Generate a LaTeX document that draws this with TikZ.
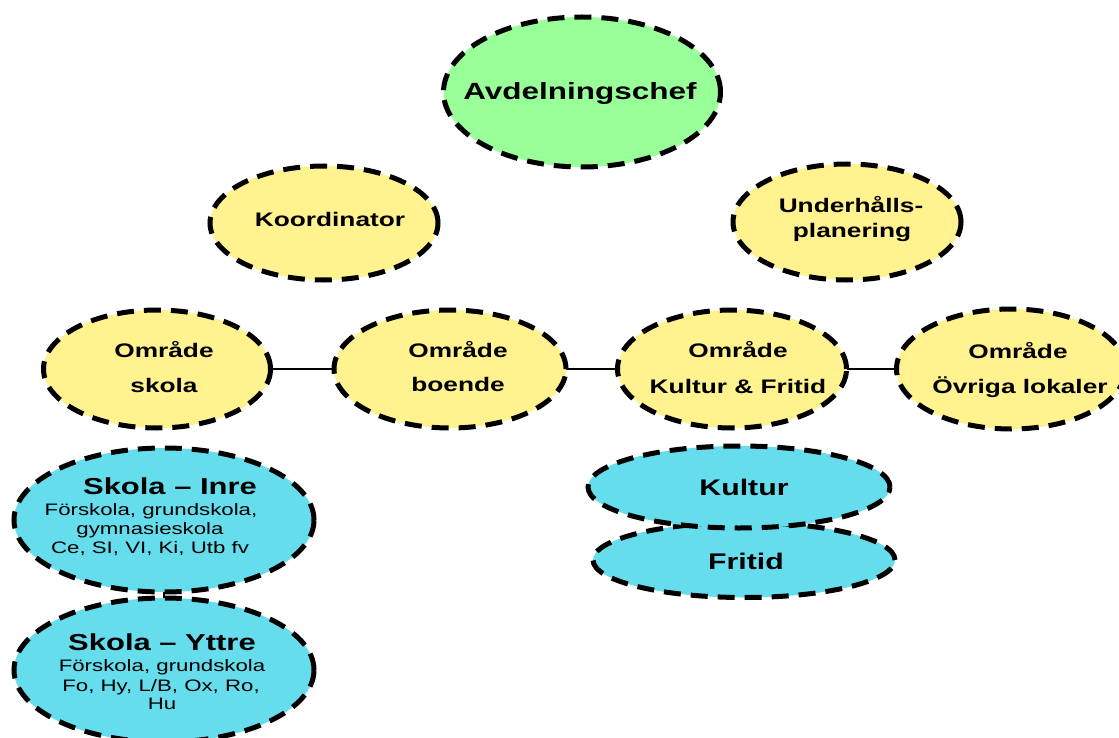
\documentclass[tikz,border=0pt]{standalone}
\usepackage{fontspec}
\usetikzlibrary{shapes.geometric}
\newfontfamily\af{Liberation Sans}[FakeStretch=1.34]
\definecolor{chefgreen}{RGB}{153,255,153}
\definecolor{areayellow}{RGB}{255,242,143}
\definecolor{unitcyan}{RGB}{102,221,236}
\tikzset{
  bubble/.style={ellipse, draw=black, line width=5pt, dash pattern=on 17pt off 10pt, inner sep=0pt, outer sep=0pt},
  chefbub/.style={bubble, fill=chefgreen},
  areabub/.style={bubble, fill=areayellow},
  unitbub/.style={bubble, fill=unitcyan},
  txt/.style={anchor=base, inner sep=0pt, text=black},
  cheftxt/.style={txt, font=\af\bfseries\fontsize{23.5}{27}\selectfont},
  areatxt/.style={txt, font=\af\bfseries\fontsize{19.6}{23}\selectfont},
  titletxt/.style={txt, font=\af\bfseries\fontsize{23.1}{26}\selectfont},
  subtxt/.style={txt, font=\af\fontsize{16.6}{19}\selectfont},
  unittxt/.style={txt, font=\af\bfseries\fontsize{22.6}{26}\selectfont},
  link/.style={draw=black, line width=1.3pt}
}
\begin{document}
\begin{tikzpicture}[x=1pt,y=-1pt]
\useasboundingbox (0,0) rectangle (1119,738);
\clip (0,0) rectangle (1119,738);
\fill[white] (0,0) rectangle (1119,738);

% top
\node[chefbub, minimum width=277pt, minimum height=150pt] (chef) at (582,92) {};
\node[cheftxt] (chef-t) at (580,100) {Avdelningschef};

\node[areabub, minimum width=228pt, minimum height=114pt] (koord) at (324,223) {};
\node[areatxt] (koord-t) at (330,227) {Koordinator};

\node[areabub, minimum width=228pt, minimum height=116pt] (underh) at (847,222) {};
\node[areatxt] (underh-t1) at (851,213) {Underhålls-};
\node[areatxt] (underh-t2) at (852,237) {planering};

% areas row
\node[areabub, minimum width=227pt, minimum height=118pt] (skola) at (157,369) {};
\node[areatxt] (skola-t1) at (164,357) {Område};
\node[areatxt] (skola-t2) at (164,392) {skola};

\node[areabub, minimum width=232pt, minimum height=118pt] (boende) at (450,369) {};
\node[areatxt] (boende-t1) at (458,357) {Område};
\node[areatxt] (boende-t2) at (458,391) {boende};

\node[areabub, minimum width=229pt, minimum height=118pt] (kf) at (732,369) {};
\node[areatxt] (kf-t1) at (738,357) {Område};
\node[areatxt] (kf-t2) at (738,393) {Kultur \& Fritid};

\node[areabub, minimum width=229pt, minimum height=120pt] (ovr) at (1011,369) {};
\node[areatxt] (ovr-t1) at (1018,358) {Område};
\node[areatxt] (ovr-t2) at (1020,393) {Övriga lokaler};

\draw[link] (skola) -- (boende);
\draw[link] (boende) -- (kf);
\draw[link] (kf) -- (ovr);

% school units
\node[unitbub, minimum width=300pt, minimum height=144pt] (inre) at (164,520) {};
\node[unitbub, minimum width=300pt, minimum height=144pt] (yttre) at (164,670) {};
\draw[link] (inre) -- (yttre);
\node[titletxt] (inre-t) at (170,494) {Skola – Inre};
\node[subtxt] (inre-s1) at (151,515) {Förskola, grundskola,};
\node[subtxt] (inre-s2) at (150,534) {gymnasieskola};
\node[subtxt] (inre-s3) at (150,553) {Ce, SI, VI, Ki, Utb fv};
\node[titletxt] (yttre-t) at (162,650) {Skola – Yttre};
\node[subtxt] (yttre-s1) at (162,671) {Förskola, grundskola};
\node[subtxt] (yttre-s2) at (161,691) {Fo, Hy, L/B, Ox, Ro,};
\node[subtxt] (yttre-s3) at (162,709) {Hu};

% culture units
\node[unitbub, minimum width=302pt, minimum height=75pt] (fritid) at (744,560) {};
\node[unitbub, minimum width=302pt, minimum height=82pt] (kultur) at (739,487) {};
\node[unittxt] (kultur-t) at (744,495) {Kultur};
\node[unittxt] (fritid-t) at (746,569) {Fritid};
\end{tikzpicture}
\end{document}
